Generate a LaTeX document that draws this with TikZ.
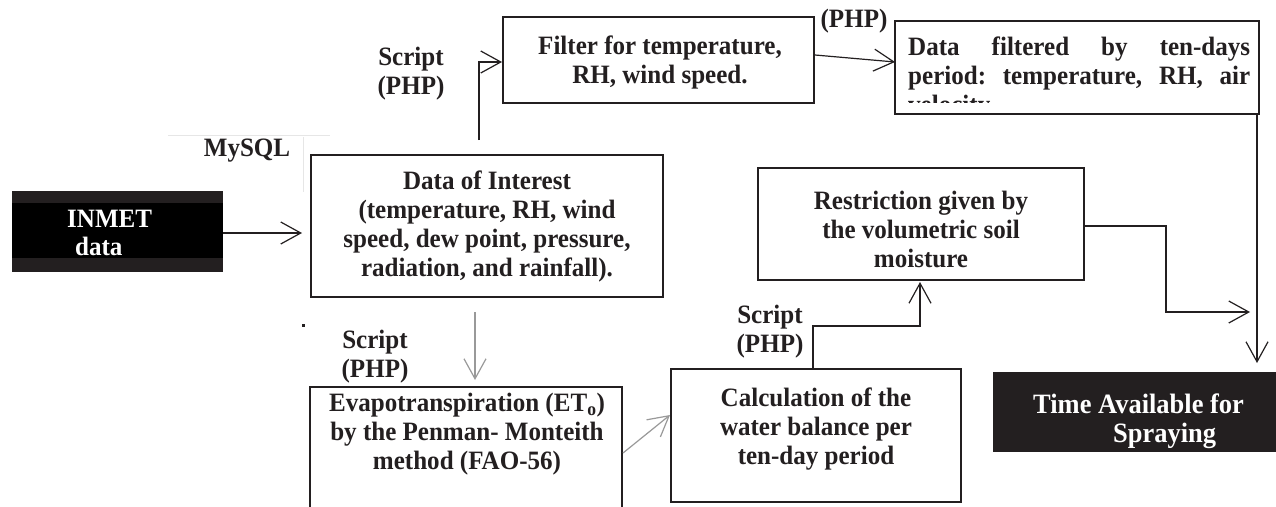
\documentclass[tikz,border=0pt]{standalone}
\usepackage{fontspec}
\setmainfont{Liberation Serif}[FakeStretch=0.945]
\usetikzlibrary{arrows.meta}
\definecolor{ink}{HTML}{231F20}
\definecolor{faint}{HTML}{E6E6E6}
\begin{document}
\begin{tikzpicture}[x=1pt,y=-1pt,
  font=\fontsize{26.5}{29}\selectfont\bfseries,
  box/.style={draw=ink, line width=2.8pt, inner sep=0pt, text=ink, align=center},
  darkbox/.style={fill=ink, inner sep=0pt},
  conn/.style={draw=ink, line width=1.2pt, -{Straight Barb[length=20pt,width=22pt,line width=1.2pt]}},
  gconn/.style={conn, draw=gray!80},
  lbl/.style={align=center, text=ink, inner sep=0pt},
  wlbl/.style={text=white, inner sep=0pt, anchor=west},
  tlbl/.style={text=white, inner sep=0pt, anchor=base west, font=\fontsize{28}{29}\selectfont\bfseries},
  ]
\clip (0,0) rectangle (1276,506);
\fill[white] (0,0) rectangle (1276,506);
% faint artefact lines
\draw[faint, line width=0.8pt] (168,135) -- (330,135);
\draw[faint, line width=0.8pt] (303,137) -- (303,192);
\fill[ink] (302,324) rectangle (305,326.5);
% INMET data
\node[darkbox, minimum width=211pt, minimum height=81pt] (inmet) at (117.5,231.5) {};
\fill[black] (12,203) rectangle (223,258);
\node[wlbl] (inmetA) at (67,219) {INMET};
\node[wlbl] (inmetB) at (75,246) {data};
\node[lbl] (mysql) at (247,151) {MySQL};
% Data of interest
\node[box, minimum width=352pt, minimum height=142pt] (doi) at (487,226)
  {Data of Interest\\(temperature, RH, wind\\speed, dew point, pressure,\\radiation, and rainfall).};
% Filter
\node[box, minimum width=311pt, minimum height=86pt] (filter) at (658.5,60) {};
\node[lbl] (filtertext) at (660,62) {Filter for temperature,\\RH, wind speed.};
% Data filtered
\node[box, minimum width=364pt, minimum height=93pt] (dfilt) at (1077,67.5) {};
\begin{scope}
\clip (897,23) rectangle (1255,102);
\node[anchor=north west, inner sep=0pt, text=ink, align=left] (dftext) at (908,37)
  {\hbox to 342pt{Data\hfill filtered\hfill by\hfill ten-days}\\
   \hbox to 342pt{period:\hfill temperature,\hfill RH,\hfill air}\\
   velocity};
\end{scope}
% Restriction
\node[box, minimum width=326pt, minimum height=112pt] (restr) at (921,224) {};
\node[lbl] (restrtext) at (921,229) {Restriction given by\\the volumetric soil\\moisture};
% Calculation
\node[box, minimum width=290pt, minimum height=133pt] (calc) at (816,435.5) {};
\node[lbl] (calctext) at (816,429) {Calculation of the\\water balance per\\ten-day period};
% Evapotranspiration (box runs off the page)
\node[box, minimum width=312pt, minimum height=160pt] (evapo) at (466,467) {};
\node[lbl] (evtext) at (467,434) {Evapotranspiration (ET\textsubscript{o})\\by the Penman- Monteith\\method (FAO-56)};
% Time available
\node[darkbox, minimum width=290pt, minimum height=80pt] (time) at (1138,412) {};
\node[tlbl] (timeA) at (1033,413) {Time Available for};
\node[tlbl] (timeB) at (1113,442) {Spraying};
% labels
\node[lbl] (s1) at (411,74) {Script\\(PHP)};
\node[lbl] (s2) at (854,21) {(PHP)};
\node[lbl] (s3) at (375,357) {Script\\(PHP)};
\node[lbl] (s4) at (770,332) {Script\\(PHP)};
% connectors
\coordinate (a1) at (302,233);
\draw[conn] (inmet.east |- a1) -- (a1);
\coordinate (a2s) at (479,140);
\coordinate (a2) at (502,62);
\draw[conn] (a2s) |- (a2);
\coordinate (a3s) at (815,55);
\coordinate (a3) at (895,62);
\draw[conn] (a3s) -- (a3);
\coordinate (a4s) at (1257,114);
\coordinate (a4) at (1257,363);
\draw[conn] (a4s) -- (a4);
\coordinate (a5s) at (1084,226);
\coordinate (a5) at (1250,312);
\draw[conn] (a5s) -- (1166,226) |- (a5);
\coordinate (a6s) at (813,369);
\coordinate (a6) at (920,282);
\draw[conn] (a6s) |- (920,326) -- (a6);
\coordinate (a7s) at (475,312);
\coordinate (a7) at (475,380);
\draw[gconn] (a7s) -- (a7);
\coordinate (a8s) at (623,453);
\coordinate (a8) at (670,415);
\draw[gconn] (a8s) -- (a8);
\end{tikzpicture}
\end{document}
